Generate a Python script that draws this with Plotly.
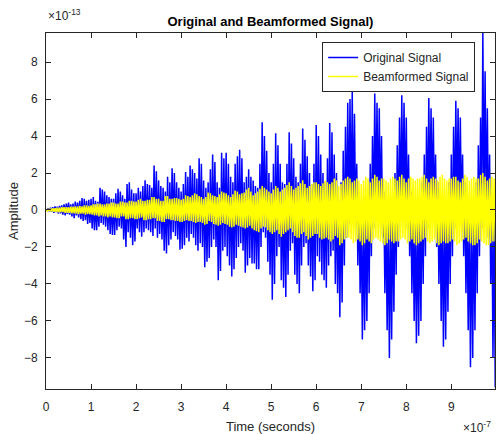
import plotly.graph_objects as go

# Sample grid (units of 1e-7 s): ripple maxima read at t, minima at t + 0.025
sample_times = [round(k * 0.05, 3) for k in range(200)]

# Original signal: local maxima / minima of the fast ripple (units of 1e-13)
orig_hi = [0.05, 0.1, 0.12, 0.15, 0.2, 0.18, 0.22, 0.25, 0.3, 0.35,
           0.4, 0.3, 0.35, 0.45, 0.4, 0.5, 0.65, 0.6, 0.5, 0.55,
           0.6, 0.7, 0.5, 0.45, 1.2, 1.1, 1.0, 0.8, 0.7, 0.6,
           0.6, 0.9, 1.15, 1.0, 0.8, 0.6, 1.4, 1.5, 1.1, 0.9,
           0.9, 1.2, 1.0, 1.3, 1.6, 1.4, 1.35, 1.2, 2.4, 2.1,
           1.6, 1.3, 1.2, 1.0, 1.8, 1.5, 2.25, 2.0, 1.5, 1.2,
           1.0, 1.4, 2.05, 1.8, 2.4, 2.2, 2.0, 1.7, 2.8, 2.5,
           1.6, 1.2, 1.5, 2.2, 3.0, 2.6, 1.5, 1.2, 3.1, 2.8,
           3.1, 2.5, 1.8, 1.5, 2.5, 2.9, 3.25, 2.8, 1.5, 1.8,
           2.2, 1.8, 1.6, 1.3, 1.2, 2.5, 4.75, 4.0, 3.2, 2.0,
           1.5, 2.5, 4.15, 3.5, 2.5, 1.5, 1.4, 2.5, 4.2, 3.6,
           2.8, 1.8, 1.5, 2.5, 4.4, 3.8, 2.9, 2.0, 1.4, 2.5,
           4.6, 4.0, 3.0, 2.0, 1.5, 2.8, 4.7, 4.2, 3.0, 2.0,
           0.5, 1.5, 3.2, 4.5, 5.8, 6.0, 6.4, 5.2, 2.5, 1.0,
           -0.5, -0.3, 0.0, 1.0, 2.5, 4.0, 6.3, 5.8, 5.5, 4.0,
           1.0, 0.0, -0.5, -0.2, 0.5, 2.0, 3.5, 5.0, 6.2, 5.8,
           5.0, 3.0, 1.0, 0.0, -0.5, -0.2, 0.3, 1.5, 3.0, 4.5,
           6.05, 5.5, 5.0, 3.0, 1.5, 0.3, -0.3, 0.0, 0.5, 1.5,
           3.0, 4.5, 5.9, 5.5, 5.0, 3.0, 1.5, 0.3, -0.3, 0.0,
           0.5, 1.5, 3.5, 5.0, 9.6, 7.5, 5.5, 3.0, 0.5, 0.0]
orig_lo = [-0.05, -0.08, -0.1, -0.15, -0.12, -0.2, -0.18, -0.25, -0.3, -0.22,
           -0.25, -0.35, -0.45, -0.3, -0.4, -0.5, -0.6, -0.55, -0.75, -0.7,
           -1.0, -1.1, -1.1, -0.9, -0.7, -0.8, -0.9, -1.1, -1.3, -1.35,
           -1.35, -1.1, -0.9, -1.0, -1.6, -2.0, -1.2, -1.5, -1.9, -1.7,
           -1.0, -1.2, -1.45, -1.2, -1.0, -1.1, -1.2, -1.4, -1.0, -1.5,
           -1.3, -1.6, -2.2, -2.35, -1.9, -1.6, -1.2, -1.4, -1.6, -2.15,
           -2.1, -1.9, -1.5, -1.7, -1.3, -1.5, -1.9, -2.2, -1.8, -2.0,
           -3.1, -2.8, -2.6, -2.0, -1.6, -2.0, -3.8, -3.3, -2.2, -2.0,
           -2.5, -3.0, -3.6, -3.2, -2.6, -2.0, -1.8, -2.2, -3.4, -3.0,
           -2.6, -2.9, -2.9, -3.2, -3.2, -2.0, -1.2, -1.5, -2.8, -3.5,
           -4.85, -4.0, -2.5, -2.0, -3.8, -4.2, -4.7, -3.5, -2.2, -1.8,
           -3.5, -4.0, -4.5, -3.0, -2.0, -1.8, -3.0, -3.6, -4.4, -3.8,
           -2.5, -2.8, -3.5, -3.8, -4.2, -3.0, -2.5, -2.2, -4.0, -4.5,
           -5.8, -5.0, -3.0, -1.5, -0.8, -0.5, -0.5, -0.8, -3.0, -4.5,
           -7.0, -6.5, -6.0, -4.5, -2.5, -1.0, 0.0, -0.3, -0.5, -1.5,
           -4.5, -6.5, -8.0, -7.0, -5.5, -3.5, -2.0, -0.5, 0.3, 0.0,
           -1.0, -2.5, -4.5, -6.0, -7.2, -6.8, -6.0, -4.0, -2.5, -1.0,
           0.2, 0.0, -0.5, -2.0, -4.0, -6.0, -7.4, -7.0, -5.5, -4.0,
           -2.5, -1.0, 0.0, -0.3, -0.5, -2.5, -4.5, -6.5, -8.5, -8.0,
           -6.5, -4.5, -2.5, -1.0, 0.2, -0.5, -1.5, -4.0, -8.0, -9.6]

# Beamformed signal: local maxima / minima (units of 1e-13)
beam_hi = [0.05, 0.06, 0.08, 0.1, 0.1, 0.12, 0.12, 0.15, 0.15, 0.15,
           0.15, 0.18, 0.18, 0.2, 0.2, 0.22, 0.2, 0.25, 0.25, 0.22,
           0.25, 0.3, 0.3, 0.35, 0.35, 0.3, 0.3, 0.35, 0.35, 0.4,
           0.4, 0.35, 0.35, 0.45, 0.45, 0.4, 0.4, 0.5, 0.5, 0.45,
           0.45, 0.55, 0.6, 0.5, 0.5, 0.55, 0.55, 0.7, 0.7, 0.6,
           0.6, 0.5, 0.5, 0.75, 0.75, 0.6, 0.6, 0.65, 0.65, 0.6,
           0.55, 0.6, 0.8, 0.75, 0.7, 0.8, 0.9, 0.85, 0.75, 0.7,
           0.6, 0.7, 0.95, 0.9, 0.8, 0.75, 0.7, 0.85, 1.0, 0.95,
           0.9, 0.8, 0.7, 0.85, 1.05, 1.0, 0.85, 0.9, 0.95, 1.1,
           1.2, 1.0, 0.8, 0.9, 1.0, 1.15, 1.3, 1.2, 1.1, 1.0,
           0.9, 1.1, 1.3, 1.2, 1.0, 1.1, 1.2, 1.35, 1.5, 1.3,
           1.1, 1.2, 1.3, 1.45, 1.6, 1.4, 1.2, 1.3, 1.4, 1.5,
           1.5, 1.4, 1.3, 1.45, 1.6, 1.5, 1.4, 1.5, 1.7, 1.6,
           1.3, 1.4, 1.6, 1.7, 1.8, 1.7, 1.5, 1.6, 1.7, 1.6,
           1.4, 1.6, 1.8, 1.7, 1.5, 1.7, 1.9, 1.8, 1.6, 1.7,
           1.7, 1.6, 1.5, 1.7, 1.8, 1.7, 1.6, 1.8, 1.9, 1.7,
           1.5, 1.7, 1.8, 1.7, 1.6, 1.7, 1.7, 1.8, 1.9, 1.7,
           1.5, 1.7, 1.8, 1.7, 1.6, 1.8, 1.9, 1.7, 1.6, 1.7,
           1.7, 1.8, 1.8, 1.6, 1.5, 1.7, 1.9, 1.8, 1.6, 1.7,
           1.8, 1.7, 1.7, 1.9, 2.0, 1.8, 1.6, 1.7, 1.8, 1.7]
beam_lo = [-0.05, -0.06, -0.08, -0.1, -0.1, -0.12, -0.12, -0.12, -0.15, -0.15,
           -0.15, -0.18, -0.18, -0.2, -0.22, -0.2, -0.2, -0.25, -0.22, -0.22,
           -0.25, -0.3, -0.3, -0.35, -0.3, -0.35, -0.35, -0.4, -0.35, -0.4,
           -0.4, -0.45, -0.45, -0.35, -0.35, -0.5, -0.5, -0.45, -0.45, -0.5,
           -0.5, -0.45, -0.4, -0.55, -0.55, -0.5, -0.5, -0.45, -0.45, -0.6,
           -0.6, -0.65, -0.65, -0.5, -0.5, -0.55, -0.55, -0.6, -0.6, -0.65,
           -0.65, -0.6, -0.55, -0.6, -0.6, -0.65, -0.7, -0.65, -0.65, -0.7,
           -0.8, -0.75, -0.6, -0.65, -0.75, -0.8, -0.85, -0.8, -0.7, -0.75,
           -0.8, -0.9, -0.95, -0.9, -0.8, -0.85, -0.9, -0.95, -1.0, -0.95,
           -0.85, -1.0, -1.1, -1.15, -1.2, -1.0, -0.9, -0.95, -1.1, -1.2,
           -1.3, -1.2, -1.1, -1.3, -1.45, -1.3, -1.2, -1.1, -1.0, -1.2,
           -1.4, -1.5, -1.5, -1.3, -1.2, -1.4, -1.6, -1.5, -1.4, -1.3,
           -1.3, -1.5, -1.6, -1.55, -1.5, -1.6, -1.7, -1.6, -1.4, -1.5,
           -1.9, -1.8, -1.6, -1.5, -1.5, -1.6, -1.8, -1.7, -1.6, -1.7,
           -1.9, -1.8, -1.6, -1.7, -1.8, -1.6, -1.5, -1.6, -1.7, -1.8,
           -1.9, -1.8, -1.6, -1.7, -1.8, -1.7, -1.7, -1.6, -1.5, -1.6,
           -1.8, -1.7, -1.6, -1.8, -1.9, -1.8, -1.7, -1.6, -1.5, -1.7,
           -1.8, -1.7, -1.6, -1.8, -1.9, -1.8, -1.7, -1.8, -1.8, -1.7,
           -1.6, -1.7, -1.9, -1.8, -1.7, -1.6, -1.5, -1.7, -1.8, -1.9,
           -1.9, -1.8, -1.6, -1.7, -1.8, -1.9, -1.9, -1.8, -1.7, -1.7]

x_ticks = [0, 1, 2, 3, 4, 5, 6, 7, 8, 9]
y_ticks = [-8, -6, -4, -2, 0, 2, 4, 6, 8]


def interleave(times, hi, lo):
    xs, ys = [], []
    for t, h, l in zip(times, hi, lo):
        xs += [t, t + 0.025]
        ys += [h, l]
    return xs, ys


ox, oy = interleave(sample_times, orig_hi, orig_lo)
bx, by = interleave(sample_times, beam_hi, beam_lo)

FONT = "Liberation Sans, Arial, Helvetica, sans-serif"
AX = "#262626"

fig = go.Figure()
fig.add_trace(go.Scatter(x=ox, y=oy, mode="lines", name="Original Signal",
                         line=dict(color="#0000FF", width=1.5)))
fig.add_trace(go.Scatter(x=bx, y=by, mode="lines", name="Beamformed Signal",
                         line=dict(color="#FFFF00", width=1.5)))

axis_common = dict(showgrid=False, zeroline=False, showline=True, linecolor=AX,
                   linewidth=1, mirror="ticks", ticks="inside", ticklen=5,
                   tickcolor=AX, automargin=False,
                   tickfont=dict(family=FONT, size=12, color=AX))

fig.update_xaxes(range=[0, 9.97], tickvals=x_ticks, ticklabelstandoff=7,
                 title=dict(text="Time (seconds)", font=dict(family=FONT, size=13, color=AX), standoff=8),
                 **axis_common)
fig.update_yaxes(range=[-9.68, 9.57], tickvals=y_ticks, ticklabelstandoff=5,
                 title=dict(text="Amplitude", font=dict(family=FONT, size=13, color=AX), standoff=2),
                 **axis_common)

fig.add_annotation(text="×10<sup>-13</sup>", xref="paper", yref="paper", x=0, y=1.05,
                   xanchor="left", yanchor="middle", showarrow=False,
                   font=dict(family=FONT, size=12, color=AX))
fig.add_annotation(text="×10<sup>-7</sup>", xref="paper", yref="paper", x=0.995, y=0,
                   xanchor="right", yanchor="top", showarrow=False, yshift=-28,
                   font=dict(family=FONT, size=12, color=AX))

fig.update_layout(
    width=498, height=434,
    margin=dict(l=46, r=3, t=33, b=45),
    paper_bgcolor="white", plot_bgcolor="white",
    title=dict(text="<b>Original and Beamformed Signal)</b>", x=0.543, xanchor="center",
               yref="container", y=0.962, yanchor="top",
               font=dict(family=FONT, size=13, color="black")),
    legend=dict(x=0.615, y=0.975, xanchor="left", yanchor="top",
                bgcolor="white", bordercolor=AX, borderwidth=1,
                font=dict(family=FONT, size=12, color=AX), tracegroupgap=0),
    showlegend=True,
)

fig.write_html("out.html", config={"displayModeBar": False},
               post_script="document.body.style.margin='0';")
